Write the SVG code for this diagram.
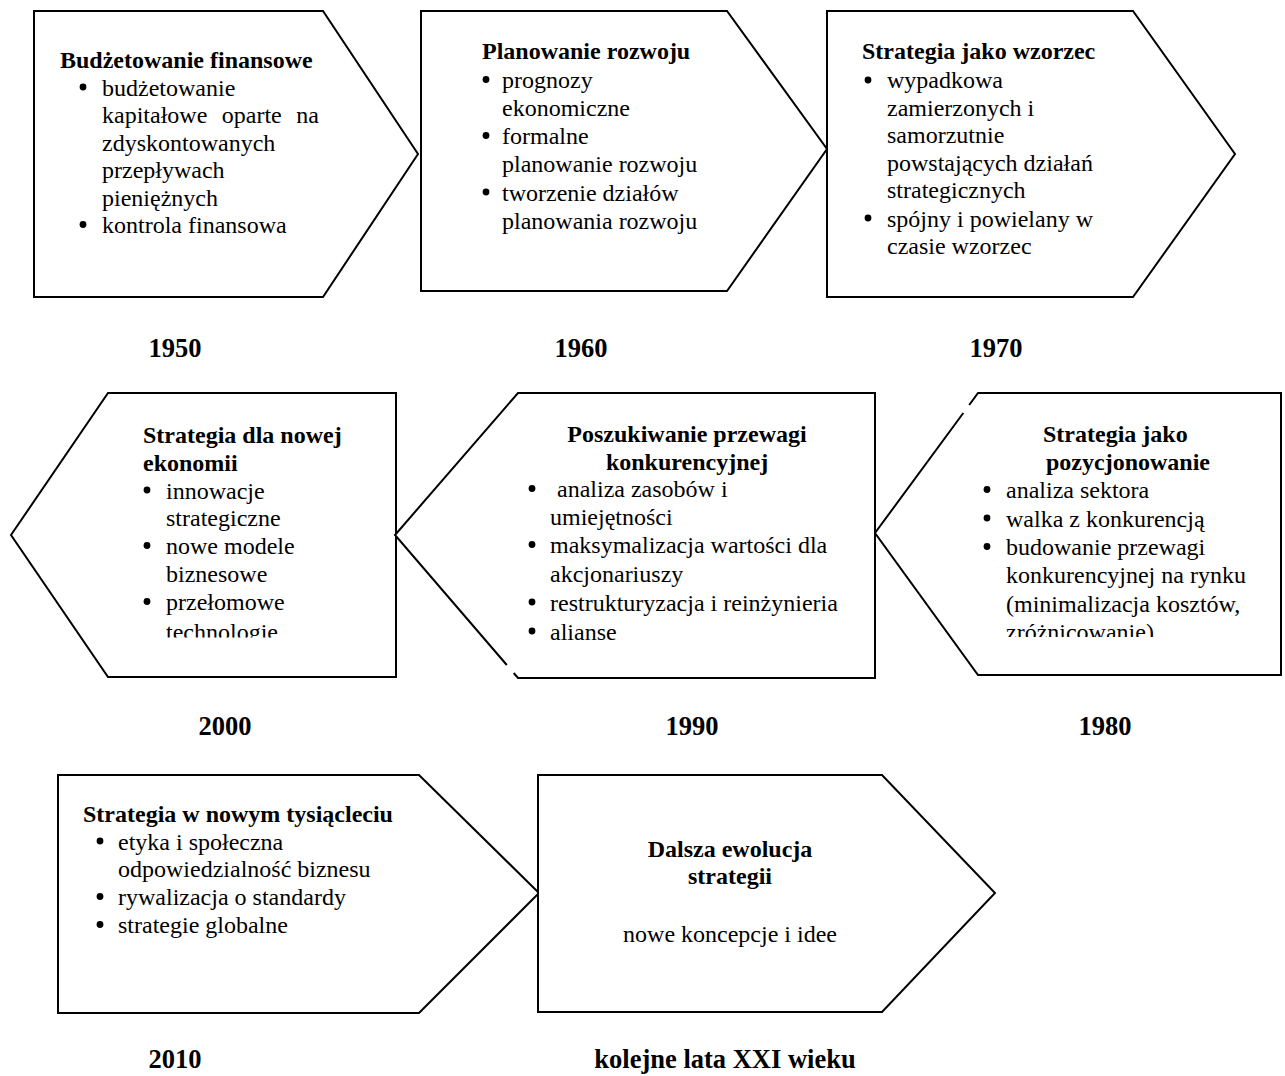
<svg xmlns="http://www.w3.org/2000/svg" width="1285" height="1076" viewBox="0 0 1285 1076">
<style>
.shape{fill:#fff;stroke:#000;stroke-width:2;stroke-linejoin:miter}
.edge{fill:none;stroke:#000;stroke-width:2}
text{font-family:"Liberation Serif","Times New Roman",serif;fill:#000}
.t{font-size:24px;font-weight:bold}
.b{font-size:24px}
.y{font-size:26.5px;font-weight:bold;text-anchor:middle}
.c{text-anchor:middle}
</style>
<defs>
<circle id="dot" r="3.4" fill="#000"/>
<clipPath id="clipA"><rect x="0" y="380" width="420" height="257.5"/></clipPath>
<clipPath id="clipB"><rect x="880" y="380" width="405" height="257"/></clipPath>
</defs>
<rect width="1285" height="1076" fill="#fff"/>
<g id="connectors"/>

<g id="n1950">
<path class="shape" d="M34,11 L323,11 L418,154 L323,297 L34,297 Z"/>
<text class="t" x="60" y="67.7">Budżetowanie finansowe</text>
<use href="#dot" x="83" y="87"/>
<text class="b" x="102" y="95.5">budżetowanie</text>
<text class="b" x="102" y="123" word-spacing="8.5">kapitałowe oparte na</text>
<text class="b" x="102" y="150.5">zdyskontowanych</text>
<text class="b" x="102" y="178">przepływach</text>
<text class="b" x="102" y="205.5">pieniężnych</text>
<use href="#dot" x="83" y="224.5"/>
<text class="b" x="102" y="233">kontrola finansowa</text>
</g>

<g id="n1960">
<path class="shape" d="M421,11 L727,11 L827,149 L727,291 L421,291 Z"/>
<text class="t" x="482" y="59">Planowanie rozwoju</text>
<use href="#dot" x="486" y="79.5"/>
<text class="b" x="502" y="87.5">prognozy</text>
<text class="b" x="502" y="115.5">ekonomiczne</text>
<use href="#dot" x="486" y="135.5"/>
<text class="b" x="502" y="144">formalne</text>
<text class="b" x="502" y="172">planowanie rozwoju</text>
<use href="#dot" x="486" y="192"/>
<text class="b" x="502" y="200.5">tworzenie działów</text>
<text class="b" x="502" y="229">planowania rozwoju</text>
</g>

<g id="n1970">
<path class="shape" d="M827,11 L1133,11 L1235,154 L1133,297 L827,297 Z"/>
<text class="t" x="862" y="59">Strategia jako wzorzec</text>
<use href="#dot" x="868" y="80"/>
<text class="b" x="887" y="88">wypadkowa</text>
<text class="b" x="887" y="115.5">zamierzonych i</text>
<text class="b" x="887" y="143">samorzutnie</text>
<text class="b" x="887" y="170.5">powstających działań</text>
<text class="b" x="887" y="198">strategicznych</text>
<use href="#dot" x="868" y="218"/>
<text class="b" x="887" y="226.5">spójny i powielany w</text>
<text class="b" x="887" y="254">czasie wzorzec</text>
</g>

<g id="y1">
<text class="y" x="175" y="357">1950</text>
<text class="y" x="581" y="357">1960</text>
<text class="y" x="996" y="357">1970</text>
</g>

<g id="n2000">
<path class="shape" d="M11,535 L108,393 L396,393 L396,677 L108,677 Z"/>
<g clip-path="url(#clipA)">
<text class="t" x="143" y="443">Strategia dla nowej</text>
<text class="t" x="143" y="470.5">ekonomii</text>
<use href="#dot" x="147" y="490"/>
<text class="b" x="166" y="498.5">innowacje</text>
<text class="b" x="166" y="526">strategiczne</text>
<use href="#dot" x="147" y="545.5"/>
<text class="b" x="166" y="554">nowe modele</text>
<text class="b" x="166" y="582">biznesowe</text>
<use href="#dot" x="147" y="601.5"/>
<text class="b" x="166" y="610">przełomowe</text>
<text class="b" x="166" y="639.5">technologie</text>
</g>
</g>

<g id="n1990">
<path class="shape" d="M513.7,673 L518,678 L875,678 L875,393 L518,393 L395,535 L506.8,665" style="fill:#fff"/>
<text class="t c" x="687" y="442">Poszukiwanie przewagi</text>
<text class="t c" x="687" y="469.5">konkurencyjnej</text>
<use href="#dot" x="532" y="488.5"/>
<text class="b" x="551" y="497"> <tspan x="557">analiza zasobów i</tspan></text>
<text class="b" x="550" y="525">umiejętności</text>
<use href="#dot" x="532" y="544.5"/>
<text class="b" x="550" y="553">maksymalizacja wartości dla</text>
<text class="b" x="550" y="581.5">akcjonariuszy</text>
<use href="#dot" x="532" y="602"/>
<text class="b" x="550" y="610.5">restrukturyzacja i reinżynieria</text>
<use href="#dot" x="532" y="631"/>
<text class="b" x="550" y="639.5">alianse</text>
</g>

<g id="n1980">
<path class="shape" d="M963.3,413 L875,533 L978,675 L1281,675 L1281,393 L978,393 L969.2,405" style="fill:#fff"/>
<g clip-path="url(#clipB)">
<text class="t" x="1043" y="442">Strategia jako</text>
<text class="t" x="1046" y="469.5">pozycjonowanie</text>
<use href="#dot" x="987" y="489.5"/>
<text class="b" x="1006" y="498">analiza sektora</text>
<use href="#dot" x="987" y="518"/>
<text class="b" x="1006" y="526.5">walka z konkurencją</text>
<use href="#dot" x="987" y="546.5"/>
<text class="b" x="1006" y="555">budowanie przewagi</text>
<text class="b" x="1006" y="583">konkurencyjnej na rynku</text>
<text class="b" x="1006" y="611.5">(minimalizacja kosztów,</text>
<text class="b" x="1006" y="640">zróżnicowanie)</text>
</g>
</g>

<g id="y2">
<text class="y" x="225" y="735">2000</text>
<text class="y" x="692" y="735">1990</text>
<text class="y" x="1105" y="735">1980</text>
</g>

<g id="n2010">
<path class="shape" d="M58,775 L419,775 L539,893 L419,1013 L58,1013 Z"/>
<text class="t" x="83" y="822">Strategia w nowym tysiącleciu</text>
<use href="#dot" x="100" y="841"/>
<text class="b" x="118" y="849.5">etyka i społeczna</text>
<text class="b" x="118" y="877">odpowiedzialność biznesu</text>
<use href="#dot" x="100" y="896.5"/>
<text class="b" x="118" y="905">rywalizacja o standardy</text>
<use href="#dot" x="100" y="924.5"/>
<text class="b" x="118" y="933">strategie globalne</text>
</g>

<g id="nXXI">
<path class="shape" d="M538,775 L882,775 L995,893 L882,1012 L538,1012 Z"/>
<text class="t c" x="730" y="857">Dalsza ewolucja</text>
<text class="t c" x="730" y="884">strategii</text>
<text class="b c" x="730" y="942">nowe koncepcje i idee</text>
</g>

<g id="y3">
<text class="y" x="175" y="1068">2010</text>
<text class="y" x="725" y="1068">kolejne lata XXI wieku</text>
</g>
</svg>
